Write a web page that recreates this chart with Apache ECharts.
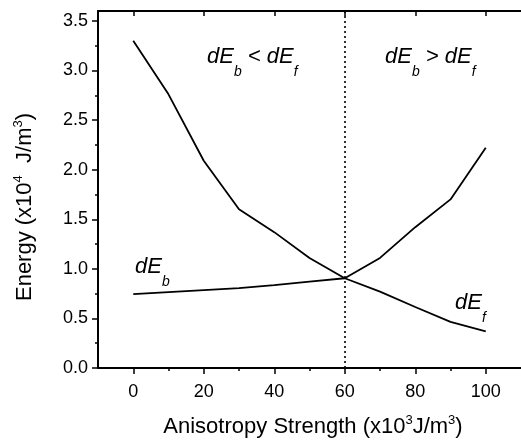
<!DOCTYPE html>
<html>
<head>
<meta charset="utf-8">
<script src="https://cdn.jsdelivr.net/npm/echarts@6/dist/echarts.min.js"></script>
<style>
  html, body { margin: 0; padding: 0; background: #fff; }
  #chart { width: 521px; height: 441px; }
</style>
</head>
<body>
<div id="chart"></div>
<script>
  // 横轴 各向异性强度 (x10^3 J/m^3)
  var strength = [0, 10, 20, 30, 40, 50, 60, 70, 80, 90, 100];
  // dE_f 曲线
  var dEf = [3.30, 2.76, 2.09, 1.60, 1.37, 1.11, 0.905, 0.77, 0.615, 0.465, 0.37];
  // dE_b 曲线
  var dEb = [0.745, 0.765, 0.785, 0.805, 0.835, 0.87, 0.905, 1.11, 1.42, 1.70, 2.22];
  var xMajor = [0, 20, 40, 60, 80, 100];
  var xMinor = [10, 30, 50, 70, 90];
  var yMajor = [0, 0.5, 1.0, 1.5, 2.0, 2.5, 3.0, 3.5];
  var yMinor = [0.25, 0.75, 1.25, 1.75, 2.25, 2.75, 3.25];
  var crossAt = 60;

  var FONT = '"Liberation Sans", Arial, sans-serif';
  var chart = echarts.init(document.getElementById('chart'));

  function pairs(xs, ys) {
    var out = [];
    for (var i = 0; i < xs.length; i++) out.push([xs[i], ys[i]]);
    return out;
  }

  //斜体标注，下标用小字号靠底
  var labRich = {
    m: { fontFamily: FONT, fontStyle: 'italic', fontSize: 22, lineHeight: 44, color: '#000' },
    s: { fontFamily: FONT, fontStyle: 'italic', fontSize: 14, lineHeight: 12, verticalAlign: 'bottom', color: '#000' }
  };
  var titleRich = {
    m: { fontFamily: FONT, fontSize: 22, lineHeight: 26, color: '#000' },
    p: { fontFamily: FONT, fontSize: 13, lineHeight: 13, verticalAlign: 'top', color: '#000' }
  };

  function note(x, y, text) {
    return {
      type: 'text', x: x, y: y, silent: true,
      style: { text: text, rich: labRich, align: 'left', verticalAlign: 'middle' }
    };
  }

  var option = {
    backgroundColor: '#fff',
    animation: false,
    grid: [
      { left: 98, top: 11, width: 425, height: 357 },
      { left: 98, top: 11, width: 425, height: 357 }
    ],
    xAxis: [{
      type: 'value', gridIndex: 0, position: 'bottom', min: -10, max: 110,
      axisLine: { onZero: false, lineStyle: { color: '#000', width: 2 } },
      axisTick: { customValues: xMajor, length: 6, lineStyle: { color: '#000', width: 1.5 } },
      axisLabel: { customValues: xMajor, color: '#000', fontSize: 18, fontFamily: FONT, margin: 15 },
      splitLine: { show: false }
    }, {
      type: 'value', gridIndex: 0, position: 'top', min: -10, max: 110,
      axisLine: { onZero: false, lineStyle: { color: '#000', width: 2 } },
      axisTick: { customValues: xMajor, inside: true, length: 5, lineStyle: { color: '#000', width: 1.5 } },
      axisLabel: { show: false },
      splitLine: { show: false }
    }, {
      type: 'value', gridIndex: 1, position: 'bottom', min: -10, max: 110,
      axisLine: { show: false, onZero: false },
      axisTick: { customValues: xMinor, length: 3, lineStyle: { color: '#000', width: 1.5 } },
      axisLabel: { show: false },
      splitLine: { show: false }
    }],
    yAxis: [{
      type: 'value', gridIndex: 0, min: 0, max: 3.6,
      axisLine: { show: true, onZero: false, lineStyle: { color: '#000', width: 2 } },
      axisTick: { show: true, customValues: yMajor, length: 6, lineStyle: { color: '#000', width: 1.5 } },
      axisLabel: {
        customValues: yMajor, color: '#000', fontSize: 18, fontFamily: FONT, margin: 10,
        formatter: function (v) { return v.toFixed(1); }
      },
      splitLine: { show: false }
    }, {
      type: 'value', gridIndex: 1, min: 0, max: 3.6,
      axisLine: { show: false, onZero: false },
      axisTick: { show: true, customValues: yMinor, length: 3, lineStyle: { color: '#000', width: 1.5 } },
      axisLabel: { show: false },
      splitLine: { show: false }
    }],
    series: [{
      name: 'dEf', type: 'line', xAxisIndex: 0, yAxisIndex: 0,
      data: pairs(strength, dEf), symbol: 'none',
      lineStyle: { color: '#000', width: 1.8 },
      markLine: {
        silent: true, symbol: 'none', label: { show: false },
        lineStyle: { color: '#000', type: [2, 3], width: 1.6 },
        data: [{ xAxis: crossAt }]
      }
    }, {
      name: 'dEb', type: 'line', xAxisIndex: 0, yAxisIndex: 0,
      data: pairs(strength, dEb), symbol: 'none',
      lineStyle: { color: '#000', width: 1.8 }
    }],
    graphic: [
      note(207, 57, '{m|dE}{s|b}{m| < dE}{s|f}'),
      note(385, 57, '{m|dE}{s|b}{m| > dE}{s|f}'),
      note(135, 267, '{m|dE}{s|b}'),
      note(455, 303, '{m|dE}{s|f}'),
      {
        type: 'text', x: 313, y: 427, silent: true,
        style: {
          text: '{m|Anisotropy Strength (x10}{p|3}{m|J/m}{p|3}{m|)}',
          rich: titleRich, align: 'center', verticalAlign: 'middle'
        }
      },
      {
        type: 'text', x: 25, y: 207, rotation: Math.PI / 2, silent: true,
        style: {
          text: '{m|Energy (x10}{p|4}{m|  J/m}{p|3}{m|)}',
          rich: titleRich, align: 'center', verticalAlign: 'middle'
        }
      }
    ]
  };
  chart.setOption(option);
</script>
</body>
</html>
